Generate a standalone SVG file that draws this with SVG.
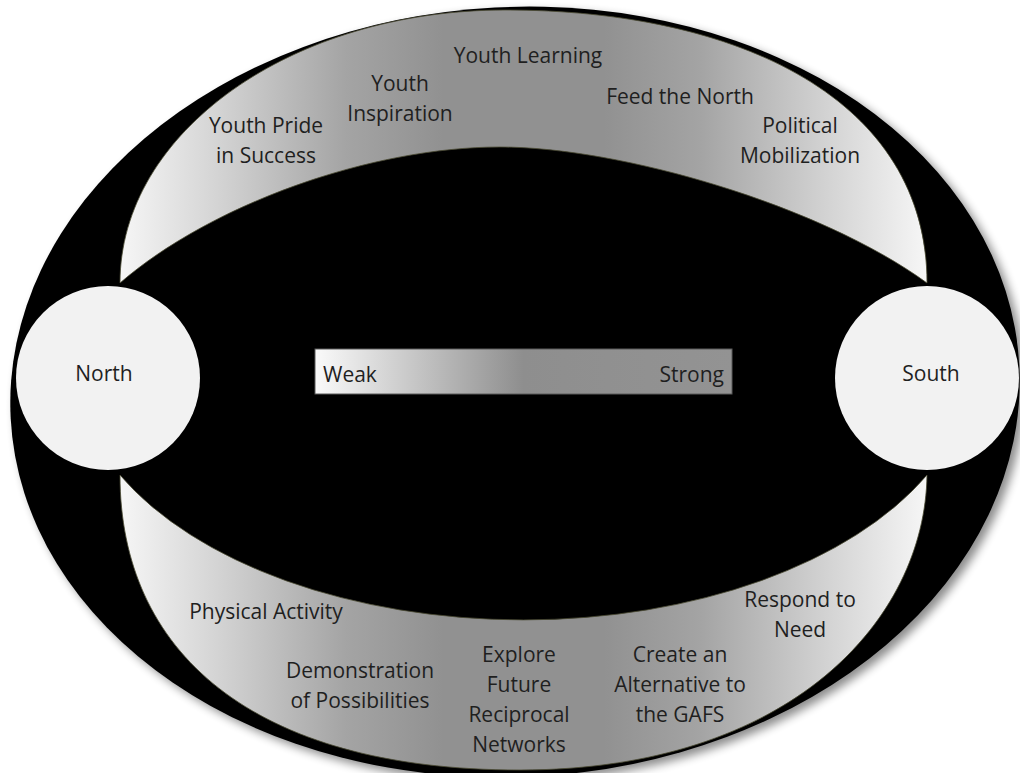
<svg xmlns="http://www.w3.org/2000/svg" width="1020" height="773" viewBox="0 0 1020 773">
  <defs>
    <style>
      .lbl { font-family: "Open Sans", "Liberation Sans", sans-serif; font-size: 21px; fill: #1f1f1f; text-anchor: middle; }
      .band { fill: url(#bandGrad); stroke: #4a4a32; stroke-width: 0.8; }
      .hub { fill: #f2f2f2; }
    </style>
    <linearGradient id="bandGrad" gradientUnits="userSpaceOnUse" x1="120" y1="0" x2="927" y2="0">
      <stop offset="0" stop-color="#f6f6f6"/>
      <stop offset="0.12" stop-color="#d4d4d4"/>
      <stop offset="0.28" stop-color="#a4a4a4"/>
      <stop offset="0.4" stop-color="#919191"/>
      <stop offset="0.6" stop-color="#919191"/>
      <stop offset="0.72" stop-color="#a4a4a4"/>
      <stop offset="0.88" stop-color="#d4d4d4"/>
      <stop offset="1" stop-color="#f6f6f6"/>
    </linearGradient>
    <linearGradient id="scaleGrad" x1="0" y1="0" x2="1" y2="0">
      <stop offset="0" stop-color="#fafafa"/>
      <stop offset="0.28" stop-color="#bdbdbd"/>
      <stop offset="0.5" stop-color="#8e8e8e"/>
      <stop offset="1" stop-color="#939393"/>
    </linearGradient>
    <filter id="soft" x="-10%" y="-10%" width="120%" height="120%">
      <feGaussianBlur stdDeviation="5"/>
    </filter>
  </defs>

  <!-- backdrop ellipse, slightly tilted, with a soft drop shadow -->
  <g id="field" transform="rotate(-3 515 392)">
    <ellipse cx="520" cy="397" rx="505" ry="385" fill="#000" opacity="0.45" filter="url(#soft)"/>
    <ellipse cx="515" cy="392" rx="505" ry="385" fill="#000"/>
  </g>

  <!-- links between North and South -->
  <g id="connectors">
    <path id="link-top" class="band"
          d="M120,283 C120,132 292,10 505,10 C740,10 927,100 927,283
             C820,205 620,147 500,147 C370,147 210,205 120,283 Z"/>
    <path id="link-bottom" class="band"
          d="M120,475 C120,650 250,770 520,770 C790,770 925,620 927,475
             A450,260 0 0,1 120,475 Z"/>
  </g>

  <g id="north">
    <circle class="hub" cx="108" cy="378" r="92"/>
    <text class="lbl" x="104" y="381">North</text>
  </g>

  <g id="south">
    <circle class="hub" cx="927" cy="378" r="92"/>
    <text class="lbl" x="931" y="381">South</text>
  </g>

  <g id="scale">
    <rect x="315" y="349" width="417" height="45" fill="url(#scaleGrad)" stroke="#5a5a5a" stroke-width="1"/>
    <text class="lbl" x="323" y="382" style="text-anchor:start">Weak</text>
    <text class="lbl" x="724" y="382" style="text-anchor:end">Strong</text>
  </g>

  <!-- top link labels -->
  <g id="top-labels">
    <text class="lbl" x="266" y="133">Youth Pride</text>
    <text class="lbl" x="266" y="163">in Success</text>
    <text class="lbl" x="400" y="91">Youth</text>
    <text class="lbl" x="400" y="121">Inspiration</text>
    <text class="lbl" x="528" y="63">Youth Learning</text>
    <text class="lbl" x="680" y="104">Feed the North</text>
    <text class="lbl" x="800" y="133">Political</text>
    <text class="lbl" x="800" y="163">Mobilization</text>
  </g>

  <!-- bottom link labels -->
  <g id="bottom-labels">
    <text class="lbl" x="266" y="619">Physical Activity</text>
    <text class="lbl" x="360" y="678">Demonstration</text>
    <text class="lbl" x="360" y="708">of Possibilities</text>
    <text class="lbl" x="519" y="662">Explore</text>
    <text class="lbl" x="519" y="692">Future</text>
    <text class="lbl" x="519" y="722">Reciprocal</text>
    <text class="lbl" x="519" y="752">Networks</text>
    <text class="lbl" x="680" y="662">Create an</text>
    <text class="lbl" x="680" y="692">Alternative to</text>
    <text class="lbl" x="680" y="722">the GAFS</text>
    <text class="lbl" x="800" y="607">Respond to</text>
    <text class="lbl" x="800" y="637">Need</text>
  </g>
</svg>
